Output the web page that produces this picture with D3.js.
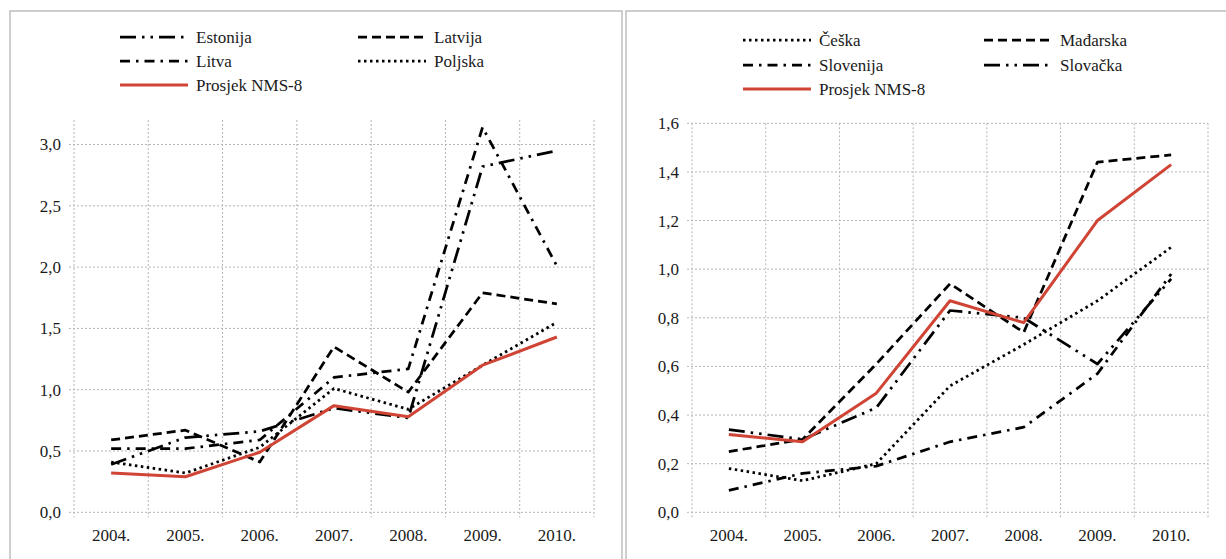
<!DOCTYPE html>
<html>
<head>
<meta charset="utf-8">
<script src="https://cdn.jsdelivr.net/npm/d3@7"></script>
<style>
  body { margin: 0; background: #fff; }
  svg { display: block; font-family: "Liberation Serif", "DejaVu Serif", serif; }
</style>
</head>
<body>
<svg id="chart" width="1226" height="559"></svg>
<script>
// categories
const years = ['2004.', '2005.', '2006.', '2007.', '2008.', '2009.', '2010.'];

// left panel series
const estonija = [0.39, 0.61, 0.66, 0.85, 0.77, 2.82, 2.95];
const latvija = [0.59, 0.67, 0.41, 1.35, 0.98, 1.79, 1.70];
const litva = [0.52, 0.52, 0.59, 1.10, 1.17, 3.14, 2.01];
const poljska = [0.41, 0.32, 0.53, 1.01, 0.84, 1.20, 1.55];
const prosjek = [0.32, 0.29, 0.49, 0.87, 0.78, 1.20, 1.43];

// right panel series
const ceska = [0.18, 0.13, 0.20, 0.52, 0.69, 0.87, 1.09];
const madarska = [0.25, 0.30, 0.61, 0.94, 0.74, 1.44, 1.47];
const slovenija = [0.09, 0.16, 0.19, 0.29, 0.35, 0.57, 0.98];
const slovacka = [0.34, 0.30, 0.43, 0.83, 0.80, 0.61, 0.96];

// tick values
const leftTicks = [0, 0.5, 1.0, 1.5, 2.0, 2.5, 3.0];
const rightTicks = [0, 0.2, 0.4, 0.6, 0.8, 1.0, 1.2, 1.4, 1.6];

const RED = '#cf4435';
const styles = {
    lgDashDotDot: '16,6,2.5,6,2.5,6',
    dash: '9,5',
    dashDot: '10,6,2.5,6',
    dot: '2.5,3.5',
    solid: null
};

const svg = d3.select('#chart');
const fmt = v => d3.format('.1f')(v).replace('.', ',');

function drawPanel(p) {
    const g = svg.append('g');

    // panel frame
    g.append('rect')
        .attr('x', p.frame[0]).attr('y', p.frame[1])
        .attr('width', p.frame[2]).attr('height', p.frame[3])
        .attr('fill', '#fff')
        .attr('stroke', '#bdbdbd')
        .attr('stroke-width', 1.5);

    const x = d3.scaleBand().domain(years).range([p.left, p.right]);
    const y = d3.scaleLinear().domain(p.yDomain).range([p.bottom, p.top]);

    // horizontal gridlines
    g.append('g')
        .selectAll('line')
        .data(p.ticks)
        .enter()
        .append('line')
        .attr('x1', p.left - 5)
        .attr('x2', p.right)
        .attr('y1', d => y(d))
        .attr('y2', d => y(d))
        .attr('stroke', '#b5b5b5')
        .attr('stroke-width', 1)
        .style('stroke-dasharray', '2,2');

    // vertical gridlines at category boundaries
    const bounds = years.map(d => x(d)).concat([p.right]);
    g.append('g')
        .selectAll('line')
        .data(bounds)
        .enter()
        .append('line')
        .attr('x1', d => d)
        .attr('x2', d => d)
        .attr('y1', p.top)
        .attr('y2', p.bottom + 5)
        .attr('stroke', '#b5b5b5')
        .attr('stroke-width', 1)
        .style('stroke-dasharray', '2,2');

    // y labels
    g.append('g')
        .selectAll('text')
        .data(p.ticks)
        .enter()
        .append('text')
        .attr('x', p.left - 13)
        .attr('y', d => y(d))
        .attr('dy', '0.35em')
        .attr('text-anchor', 'end')
        .style('font-size', '17px')
        .style('fill', '#1a1a1a')
        .text(d => fmt(d));

    // x labels
    g.append('g')
        .selectAll('text')
        .data(years)
        .enter()
        .append('text')
        .attr('x', d => x(d) + x.bandwidth() / 2)
        .attr('y', p.bottom + 29)
        .attr('text-anchor', 'middle')
        .style('font-size', '17px')
        .style('fill', '#1a1a1a')
        .text(d => d);

    const line = d3.line()
        .x((d, i) => x(years[i]) + x.bandwidth() / 2)
        .y(d => y(d));

    g.append('g')
        .selectAll('path')
        .data(p.series)
        .enter()
        .append('path')
        .attr('d', d => line(d.values))
        .attr('fill', 'none')
        .attr('stroke', d => d.color)
        .attr('stroke-width', d => d.color === RED ? 3 : 2.75)
        .attr('stroke-linejoin', 'round')
        .style('stroke-dasharray', d => styles[d.style]);

    // legend
    const leg = g.append('g')
        .selectAll('g')
        .data(p.series)
        .enter()
        .append('g')
        .attr('transform', d => `translate(${p.legendX[d.col]},${p.legendY[d.row]})`);

    leg.append('line')
        .attr('x1', d => d.col === 0 ? 0 : 0)
        .attr('x2', 68)
        .attr('y1', 0)
        .attr('y2', 0)
        .attr('stroke', d => d.color)
        .attr('stroke-width', d => d.color === RED ? 3 : 2.75)
        .style('stroke-dasharray', d => styles[d.style]);

    leg.append('text')
        .attr('x', 76)
        .attr('dy', '0.35em')
        .style('font-size', '17px')
        .style('fill', '#1a1a1a')
        .text(d => d.name);
}

drawPanel({
    frame: [10, 11, 612, 560],
    left: 74, right: 594, top: 120, bottom: 512.3,
    yDomain: [0, 3.2],
    ticks: leftTicks,
    legendX: [120, 358],
    legendY: [37, 61, 85],
    series: [
        { name: 'Estonija', values: estonija, color: '#000', style: 'lgDashDotDot', col: 0, row: 0 },
        { name: 'Latvija', values: latvija, color: '#000', style: 'dash', col: 1, row: 0 },
        { name: 'Litva', values: litva, color: '#000', style: 'dashDot', col: 0, row: 1 },
        { name: 'Poljska', values: poljska, color: '#000', style: 'dot', col: 1, row: 1 },
        { name: 'Prosjek NMS-8', values: prosjek, color: RED, style: 'solid', col: 0, row: 2 }
    ]
});

drawPanel({
    frame: [626, 11, 610, 560],
    left: 692, right: 1208, top: 123.3, bottom: 512.3,
    yDomain: [0, 1.6],
    ticks: rightTicks,
    legendX: [743, 984],
    legendY: [40, 65, 89],
    series: [
        { name: 'Češka', values: ceska, color: '#000', style: 'dot', col: 0, row: 0 },
        { name: 'Mađarska', values: madarska, color: '#000', style: 'dash', col: 1, row: 0 },
        { name: 'Slovenija', values: slovenija, color: '#000', style: 'dashDot', col: 0, row: 1 },
        { name: 'Slovačka', values: slovacka, color: '#000', style: 'lgDashDotDot', col: 1, row: 1 },
        { name: 'Prosjek NMS-8', values: prosjek, color: RED, style: 'solid', col: 0, row: 2 }
    ]
});
</script>
</body>
</html>
